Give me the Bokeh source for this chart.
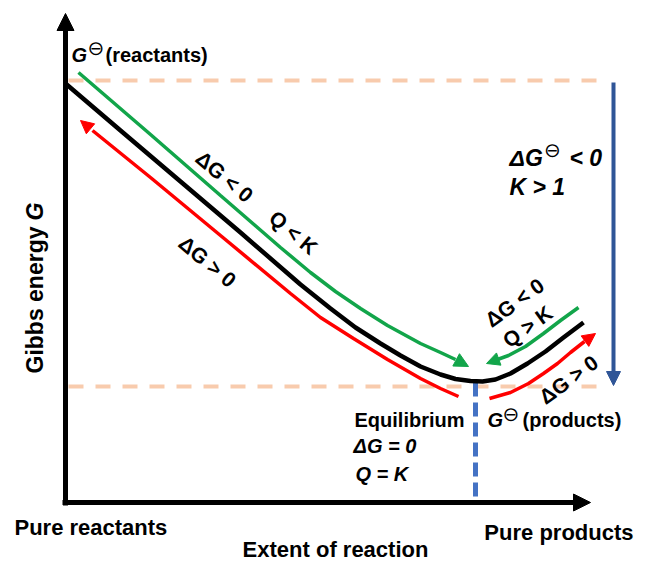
from bokeh.plotting import figure
from bokeh.models import Range1d, Arrow, NormalHead
from bokeh.core.properties import value
from bokeh.embed import file_html
from bokeh.resources import INLINE

# ---------------- data (x = extent of reaction, g = Gibbs energy, arbitrary units) -------------
extent = [0, 55, 115, 175, 235, 265, 290, 315, 335, 355, 375, 390, 405, 417, 430, 445, 462, 480, 498, 518]
gibbs = [419, 372, 321, 270, 218, 194, 175, 159, 147, 136, 128, 123.5, 121.5, 121, 123, 129, 139, 151, 165, 180]

# spontaneous forward direction (dG < 0, Q < K), left branch
fwd_left_x = [13, 85, 155, 215, 245, 270, 295, 322, 355, 375, 390]
fwd_left_g = [430, 368, 307, 255, 230, 211, 194, 177, 159, 150, 143]
# non-spontaneous (dG > 0), left branch
rev_left_x = [27, 85, 155, 225, 255, 288, 322, 355, 375, 393]
rev_left_g = [372, 325, 267, 209, 185, 164, 143, 124, 114, 106]
# spontaneous reverse direction (dG < 0, Q > K), right branch
fwd_right_x = [513, 495, 478, 460, 443, 432]
fwd_right_g = [195, 182, 169, 156, 147, 143]
# non-spontaneous (dG > 0), right branch
rev_right_x = [424, 445, 463, 478, 492, 505, 519]
rev_right_g = [104, 110, 119, 129, 139, 150, 161]

g_reactants = 422
g_products = 116
extent_eq = 410
extent_end = 538
extent_min = 3
g_top = 489
extent_axis_end = 525
std_drop_x = 548

# ---------------- figure -------------
p = figure(width=635, height=562, x_range=Range1d(-65, 570), y_range=Range1d(-60, 502),
           output_backend="svg", toolbar_location=None, min_border=0)
p.axis.visible = False
p.grid.visible = False
p.outline_line_color = None
p.background_fill_color = "white"
p.border_fill_color = "white"

GREEN = "#12a54a"
RED = "#ff0000"
PEACH = "#f8cbad"

# standard-state levels
p.line([extent_min, extent_end], [g_reactants, g_reactants], line_color=PEACH, line_width=4, line_dash="15 12")
p.line([extent_min, extent_end], [g_products, g_products], line_color=PEACH, line_width=4, line_dash="15 12")

# equilibrium marker
p.line([extent_eq, extent_eq], [120, 1], line_color="#4472c4", line_width=5, line_dash="14 6")

# G curve
p.line(extent, gibbs, line_color="black", line_width=4.5, line_join="round")

# direction arrows (bodies)
p.line(fwd_left_x, fwd_left_g, line_color=GREEN, line_width=3.5)
p.line(rev_left_x, rev_left_g, line_color=RED, line_width=3.5)
p.line(fwd_right_x, fwd_right_g, line_color=GREEN, line_width=3.5)
p.line(rev_right_x, rev_right_g, line_color=RED, line_width=3.5)


def head(x0, y0, x1, y1, color, size, width=0, alpha=0.0):
    p.add_layout(Arrow(end=NormalHead(size=size, fill_color=color, line_color=color, line_width=1),
                       x_start=x0, y_start=y0, x_end=x1, y_end=y1,
                       line_color=color, line_width=width, line_alpha=alpha))


head(fwd_left_x[-1], fwd_left_g[-1], 403, 136, GREEN, 14)
head(rev_left_x[0], rev_left_g[0], 15, 382, RED, 13)
head(fwd_right_x[-1], fwd_right_g[-1], 421, 139, GREEN, 13)
head(rev_right_x[-1], rev_right_g[-1], 530, 169, RED, 13)

# axes
head(0, -3, 0, g_top, "black", 17, width=5, alpha=1.0)
head(-3, 0, extent_axis_end, 0, "black", 17, width=5, alpha=1.0)

# standard Gibbs energy drop
head(std_drop_x, 420, std_drop_x, 117, "#2f5597", 14, width=4, alpha=1.0)

# ---------------- texts -------------
F = value("Liberation Sans")
SYM = value("DejaVu Sans")

# G(reactants)
p.text(x=[6], y=[448], text=["G"], text_font=F, text_font_size="20px", text_font_style="bold italic",
       text_baseline="alphabetic", text_align="left")
p.text(x=[40], y=[448], text=["(reactants)"], text_font=F, text_font_size="20px", text_font_style="bold",
       text_baseline="alphabetic", text_align="left")

# G(products)
p.text(x=[422], y=[83], text=["G"], text_font=F, text_font_size="20px", text_font_style="bold italic",
       text_baseline="alphabetic", text_align="left")
p.text(x=[457], y=[83], text=["(products)"], text_font=F, text_font_size="20px", text_font_style="bold",
       text_baseline="alphabetic", text_align="left")

# standard-state symbols
p.text(x=[30.5, 445.5, 487], y=[454.5, 89, 353], text=["\u2296", "\u2296", "\u2296"], text_font=SYM,
       text_font_size="20px", text_baseline="middle", text_align="center")

# Equilibrium block
p.text(x=[289], y=[83], text=["Equilibrium"], text_font=F, text_font_size="20px", text_font_style="bold",
       text_baseline="alphabetic", text_align="left")
p.text(x=[288, 290], y=[57, 29], text=["\u0394G = 0", "Q = K"], text_font=F, text_font_size="20px",
       text_font_style="bold italic", text_baseline="alphabetic", text_align="left")

# standard reaction Gibbs energy
p.text(x=[444], y=[345], text=["\u0394G"], text_font=F, text_font_size="23px", text_font_style="bold italic",
       text_baseline="alphabetic", text_align="left")
p.text(x=[504], y=[345], text=["< 0"], text_font=F, text_font_size="23px", text_font_style="bold italic",
       text_baseline="alphabetic", text_align="left")
p.text(x=[444], y=[316], text=["K > 1"], text_font=F, text_font_size="23px", text_font_style="bold italic",
       text_baseline="alphabetic", text_align="left")

# rotated direction labels
p.text(x=[159, 228, 142], y=[326, 270, 241], text=["\u0394G < 0", "Q < K", "\u0394G > 0"],
       text_font=F, text_font_size="21px", text_font_style="bold", angle=-40, angle_units="deg",
       text_align="center", text_baseline="middle")
p.text(x=[449, 462, 503], y=[200, 176, 123], text=["\u0394G < 0", "Q > K", "\u0394G > 0"],
       text_font=F, text_font_size="21px", text_font_style="bold", angle=36, angle_units="deg",
       text_align="center", text_baseline="middle")

# axis labels
p.text(x=[-51], y=[-25], text=["Pure reactants"], text_font=F, text_font_size="22px", text_font_style="bold",
       text_baseline="alphabetic", text_align="left")
p.text(x=[568], y=[-30], text=["Pure products"], text_font=F, text_font_size="22px", text_font_style="bold",
       text_baseline="alphabetic", text_align="right")
p.text(x=[270], y=[-47], text=["Extent of reaction"], text_font=F, text_font_size="22px", text_font_style="bold",
       text_baseline="alphabetic", text_align="center")
p.text(x=[-31], y=[129], text=["Gibbs energy "], text_font=F, text_font_size="23px", text_font_style="bold",
       text_baseline="alphabetic", text_align="left", angle=90, angle_units="deg")
p.text(x=[-31], y=[282], text=["G"], text_font=F, text_font_size="23px", text_font_style="bold italic",
       text_baseline="alphabetic", text_align="left", angle=90, angle_units="deg")

open("out.html", "w").write(file_html(p, INLINE))
